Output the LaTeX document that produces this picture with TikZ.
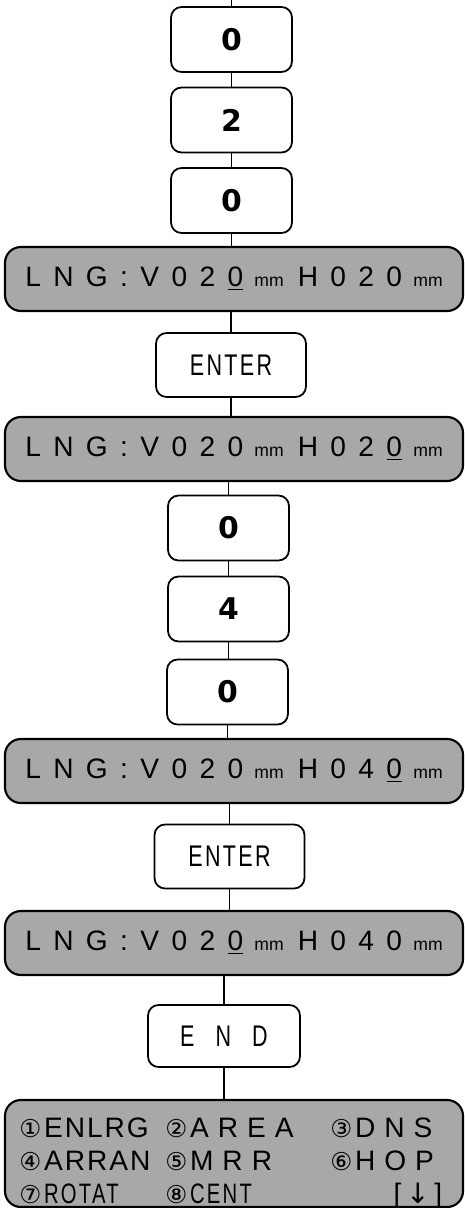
\documentclass[tikz,border=0pt]{standalone}
\usepackage{fontspec}
\setmainfont{Liberation Sans}
\newfontfamily\dispfont[LetterSpace=44]{Liberation Sans}
\newfontfamily\keyfont[FakeStretch=0.72,LetterSpace=8]{Liberation Sans}
\newfontfamily\digfont{DejaVu Sans}
\newfontfamily\symfont{DejaVu Sans}
\newfontfamily\menufont[LetterSpace=7]{Liberation Sans}
\usetikzlibrary{positioning}
\definecolor{lcdgray}{RGB}{168,168,168}
\newcommand{\unitmm}{\hspace{0.4em}{\rmfamily\fontsize{10}{12}\selectfont mm}}
\newcommand{\cur}[1]{\hspace{0.44em}\underline{#1}}
\newcommand{\lngtext}[2]{LNG:V#1\unitmm\hspace{8pt}H#2\unitmm}
\newcommand{\circnum}[1]{{\symfont\fontsize{14}{14}\selectfont #1}\hspace{1.5pt}}
\newcommand{\wide}[1]{{\addfontfeature{LetterSpace=32}#1}}

\begin{document}
\begin{tikzpicture}[
    keybox/.style={draw, line width=1pt, rounded corners=6pt, minimum width=2.42cm, minimum height=1.3cm,
                   font=\digfont\bfseries\fontsize{17}{17}\selectfont},
    wordbox/.style={draw, line width=1pt, rounded corners=6pt, minimum width=3.0cm, minimum height=1.28cm,
                    font=\keyfont\fontsize{17}{17}\selectfont},
    dispbox/.style={draw, line width=1.2pt, rounded corners=9pt, fill=lcdgray, minimum width=9.16cm,
                    minimum height=1.28cm, font=\dispfont\fontsize{16}{16}\selectfont},
    menubox/.style={draw, line width=1.2pt, rounded corners=9pt, fill=lcdgray, minimum width=9.16cm,
                    minimum height=2.14cm},
    menutext/.style={anchor=base west, inner sep=0pt, font=\menufont\fontsize{16}{16}\selectfont},
    link/.style={line width=0.9pt},
  ]
    \useasboundingbox (0,0) rectangle (9.3,-24.16);

    \coordinate (top) at (4.63,0);
    \node[keybox] (k1) at (4.63,-0.79)  {0};
    \node[keybox] (k2) at (4.63,-2.40)  {2};
    \node[keybox] (k3) at (4.63,-4.01)  {0};
    \node[dispbox] (d1) at (4.68,-5.58) {\lngtext{02\cur{0}}{020}};
    \node[wordbox] (e1) at (4.62,-7.30) {ENTER};
    \node[dispbox] (d2) at (4.68,-8.98) {\lngtext{020}{02\cur{0}}};
    \node[keybox] (k4) at (4.57,-10.56) {0};
    \node[keybox] (k5) at (4.57,-12.18) {4};
    \node[keybox] (k6) at (4.55,-13.84) {0};
    \node[dispbox] (d3) at (4.68,-15.42) {\lngtext{020}{04\cur{0}}};
    \node[wordbox] (e2) at (4.59,-17.13) {ENTER};
    \node[dispbox] (d4) at (4.68,-18.86) {\lngtext{02\cur{0}}{040}};
    \node[wordbox, minimum width=3.04cm, minimum height=1.24cm] (en) at (4.48,-20.72)
        {E\hspace{12pt}N\hspace{12pt}D};
    \node[menubox] (menu) at (4.68,-23.07) {};

    % menu entries
    \node[menutext] (m1) at (0.38,-22.74) {\circnum{①}ENLRG};
    \node[menutext] (m2) at (3.30,-22.74) {\circnum{②}\wide{AREA}};
    \node[menutext] (m3) at (6.60,-22.74) {\circnum{③}\wide{DNS}};
    \node[menutext] (m4) at (0.38,-23.40) {\circnum{④}ARRAN};
    \node[menutext] (m5) at (3.30,-23.40) {\circnum{⑤}\wide{MRR}};
    \node[menutext] (m6) at (6.60,-23.40) {\circnum{⑥}\wide{HOP}};
    \node[menutext, font=\keyfont\fontsize{16}{16}\selectfont] (m7) at (0.38,-24.06) {\circnum{⑦}ROTAT};
    \node[menutext, font=\keyfont\fontsize{16}{16}\selectfont] (m8) at (3.30,-24.06) {\circnum{⑧}CENT};
    \node[menutext, anchor=base east] (m9) at (8.85,-24.06) {[\,{\symfont ↓}\,]};

    \draw[link] (top) -- (k1.north);
    \draw[link] (k1.south) -- (k2.north);
    \draw[link] (k2.south) -- (k3.north);
    \draw[link] (k3.south) -- (k3.south |- d1.north);
    \draw[link] (d1.south -| e1.south) -- (e1.south |- e1.north);
    \draw[link] (e1.south) -- (e1.south |- d2.north);
    \draw[link] (d2.south -| k4.north) -- (k4.north);
    \draw[link] (k4.south) -- (k4.south |- k5.north);
    \draw[link] (k5.south) -- (k5.south |- k6.north);
    \draw[link] (k6.south) -- (k6.south |- d3.north);
    \draw[link] (d3.south -| e2.north) -- (e2.north);
    \draw[link] (e2.south) -- (e2.south |- d4.north);
    \draw[link] (d4.south -| en.north) -- (en.north);
    \draw[link] (en.south) -- (en.south |- menu.north);
  \end{tikzpicture}
\end{document}
